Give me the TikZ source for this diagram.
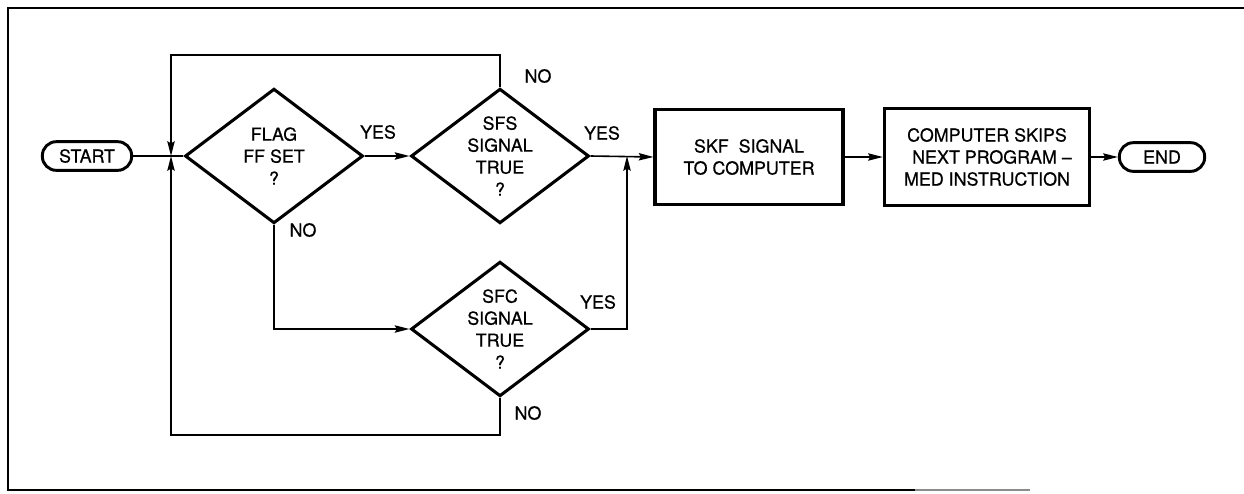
\documentclass[tikz,border=0pt]{standalone}
\usepackage{fontspec}
\setmainfont{TeX Gyre Heros}[FakeBold=0.6]
\usetikzlibrary{arrows.meta,shapes.geometric}
\begin{document}
\begin{tikzpicture}[x=0.75pt,y=-0.75pt,
  every node/.style={font=\fontsize{13.4}{16.5}\selectfont},
  dec/.style={draw,diamond,line width=2.3pt,inner sep=0pt,minimum width=133.5pt,minimum height=101pt},
  proc/.style={draw,rectangle,line width=2.3pt,align=center,inner sep=0pt},
  term/.style={draw,rectangle,rounded corners=10.5pt,line width=2.2pt,inner sep=0pt,minimum height=21.5pt},
  conn/.style={line width=1.2pt},
  arr/.style={conn,-{Stealth[length=11pt,width=5.5pt,inset=1.5pt]}},
  lab/.style={inner sep=0pt}
]
\useasboundingbox (0,0) rectangle (1244,493);
% frame
\draw[line width=2.2pt] (1244,8) -- (8,8) -- (8,490) -- (915,490);
\draw[line width=2pt,black!45] (915,490) -- (1030,490);

% nodes
\node[term,minimum width=67pt] (start) at (87,156) {START};
\node[dec,label={[align=center]center:FLAG\\FF SET\\?}] (d1) at (274,156) {};
\node[dec,label={[align=center]center:SFS\\SIGNAL\\TRUE\\?}] (d2) at (500,156) {};
\node[dec,label={[align=center]center:SFC\\SIGNAL\\TRUE\\?}] (d3) at (500,329) {};
\node[proc,minimum width=141pt,minimum height=71.5pt] (skf) at (749,157) {SKF\ \ SIGNAL\\TO COMPUTER};
\node[proc,minimum width=154pt,minimum height=72.5pt] (comp) at (987,157) {COMPUTER SKIPS\\\ \ NEXT PROGRAM --\\MED INSTRUCTION};
\node[term,minimum width=64pt] (end) at (1162,157) {END};

\coordinate (j1) at (171,156);
\coordinate (j2) at (627,156);

% connectors
\draw[conn] (start.east) -- (d1.west);
\draw[arr] (d1.east) -- (d2.west);
\draw[arr] (d2.north) -- ++(0,-32) -| (j1);
\draw[arr] (d2.east) -- (skf.west);
\draw[arr] (d1.south) |- (d3.west);
\draw[arr] (d3.east) -| (j2);
\draw[arr] (d3.south) -- ++(0,37) -| (j1);
\draw[arr] (skf.east) -- (comp.west);
\draw[arr] (comp.east) -- (end.west);

% labels
\node[lab] (l1) at (378,132) {YES};
\node[lab] (l2) at (602,133) {YES};
\node[lab] (l3) at (538,76) {NO};
\node[lab] (l4) at (303,230) {NO};
\node[lab] (l5) at (598,302) {YES};
\node[lab] (l6) at (528,413) {NO};
\end{tikzpicture}
\end{document}
